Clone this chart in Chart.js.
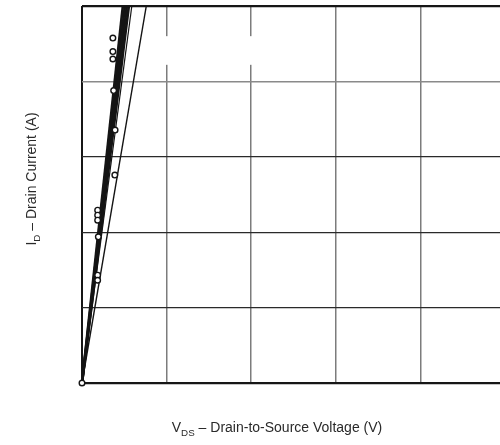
<!DOCTYPE html>
<html>
<head>
<meta charset="utf-8">
<script src="https://cdn.jsdelivr.net/npm/chart.js@4.4.0/dist/chart.umd.min.js"></script>
<style>
  html, body { margin: 0; padding: 0; background: #fff; overflow: hidden; }
  #wrap { position: relative; width: 520px; height: 445px; }
</style>
</head>
<body>
<div id="wrap"><canvas id="c"></canvas></div>
<script>
// Grid divisions on both axes
const vdsTicks = [0, 1, 2, 3, 4, 5];   // V
const idTicks  = [0, 1, 2, 3, 4, 5];   // A

// Fitted on-state lines through the origin: V_DS at which each line reaches the top current
const fitEndV = [0.483, 0.507, 0.530, 0.554, 0.589, 0.760];
const fitEndA = 5;

// Measured points (V_DS, I_D)
const measuredV = [0, 0.185, 0.185, 0.185, 0.193, 0.185, 0.185, 0.365, 0.365, 0.365, 0.374, 0.391, 0.388];
const measuredA = [0, 2.292, 2.226, 2.160, 1.938, 1.430, 1.363, 4.575, 4.396, 4.297, 3.878, 3.354, 2.757];

// Blank label area inside the plot (V and A ranges)
const blankV = [0.9, 2.2];
const blankA = [4.22, 4.6];

const lineSets = fitEndV.map((v, i) => ({
  type: 'line',
  data: [{ x: 0, y: 0 }, { x: v, y: fitEndA }],
  borderColor: '#141414',
  borderWidth: i < 4 ? 2.6 : (i === 4 ? 1.2 : 1.4),
  pointRadius: 0,
  fill: false,
  order: 2
}));

const pointSet = {
  type: 'scatter',
  data: measuredV.map((v, i) => ({ x: v, y: measuredA[i] })),
  pointStyle: 'circle',
  pointRadius: 2.8,
  pointBorderWidth: 1.4,
  pointBackgroundColor: '#ffffff',
  pointBorderColor: '#141414',
  clip: false,
  order: 1
};

const blankArea = {
  id: 'blankArea',
  beforeDatasetsDraw(chart) {
    const { ctx, scales: { x, y } } = chart;
    const l = x.getPixelForValue(blankV[0]), r = x.getPixelForValue(blankV[1]);
    const t = y.getPixelForValue(blankA[1]), b = y.getPixelForValue(blankA[0]);
    ctx.save();
    ctx.fillStyle = '#ffffff';
    ctx.fillRect(l, t, r - l, b - t);
    ctx.restore();
  }
};

// Axis titles with subscripted symbols
function drawSubTitle(ctx, main, sub, rest, size) {
  const f = '"Liberation Sans", Arial, Helvetica, sans-serif';
  ctx.font = size + 'px ' + f;
  const w1 = ctx.measureText(main).width;
  const w3 = ctx.measureText(rest).width;
  ctx.font = (size * 0.7) + 'px ' + f;
  const w2 = ctx.measureText(sub).width;
  const total = w1 + w2 + w3;
  let x = -total / 2;
  ctx.font = size + 'px ' + f;
  ctx.fillText(main, x, 0); x += w1;
  ctx.font = (size * 0.7) + 'px ' + f;
  ctx.fillText(sub, x, size * 0.26); x += w2;
  ctx.font = size + 'px ' + f;
  ctx.fillText(rest, x, 0);
}

const axisTitles = {
  id: 'axisTitles',
  afterDraw(chart) {
    const { ctx, chartArea: a } = chart;
    ctx.save();
    ctx.fillStyle = '#2a2a2a';
    ctx.textBaseline = 'alphabetic';
    ctx.textAlign = 'left';
    ctx.save();
    ctx.translate(a.left + 195, a.bottom + 49);
    drawSubTitle(ctx, 'V', 'DS', ' \u2013 Drain-to-Source Voltage (V)', 14);
    ctx.restore();
    ctx.save();
    ctx.translate(a.left - 46, 179);
    ctx.rotate(-Math.PI / 2);
    drawSubTitle(ctx, 'I', 'D', ' \u2013 Drain Current (A)', 14);
    ctx.restore();
    ctx.restore();
  }
};

new Chart(document.getElementById('c'), {
  data: { datasets: [pointSet, ...lineSets] },
  plugins: [blankArea, axisTitles],
  options: {
    responsive: true,
    maintainAspectRatio: false,
    animation: false,
    layout: { padding: { left: 82, top: 6, right: 15, bottom: 62 } },
    plugins: { legend: { display: false }, tooltip: { enabled: false } },
    scales: {
      x: {
        type: 'linear',
        min: vdsTicks[0],
        max: vdsTicks[vdsTicks.length - 1],
        afterBuildTicks: s => { s.ticks = vdsTicks.map(v => ({ value: v })); },
        ticks: { display: false },
        border: { display: false },
        grid: {
          drawTicks: false,
          color: c => c.tick && c.tick.value === 0 ? '#161616' : '#7c7c7c',
          lineWidth: c => c.tick && c.tick.value === 0 ? 2 : 1.5
        }
      },
      y: {
        type: 'linear',
        min: idTicks[0],
        max: idTicks[idTicks.length - 1],
        afterBuildTicks: s => { s.ticks = idTicks.map(v => ({ value: v })); },
        ticks: { display: false },
        border: { display: false },
        grid: {
          drawTicks: false,
          color: c => {
            const v = c.tick ? c.tick.value : -1;
            if (v === 0 || v === 5) return '#161616';
            if (v === 4) return '#8a8a8a';
            return '#2a2a2a';
          },
          lineWidth: c => {
            const v = c.tick ? c.tick.value : -1;
            if (v === 0 || v === 5) return 2.2;
            if (v === 4) return 1.6;
            return 1.2;
          }
        }
      }
    }
  }
});
</script>
</body>
</html>
